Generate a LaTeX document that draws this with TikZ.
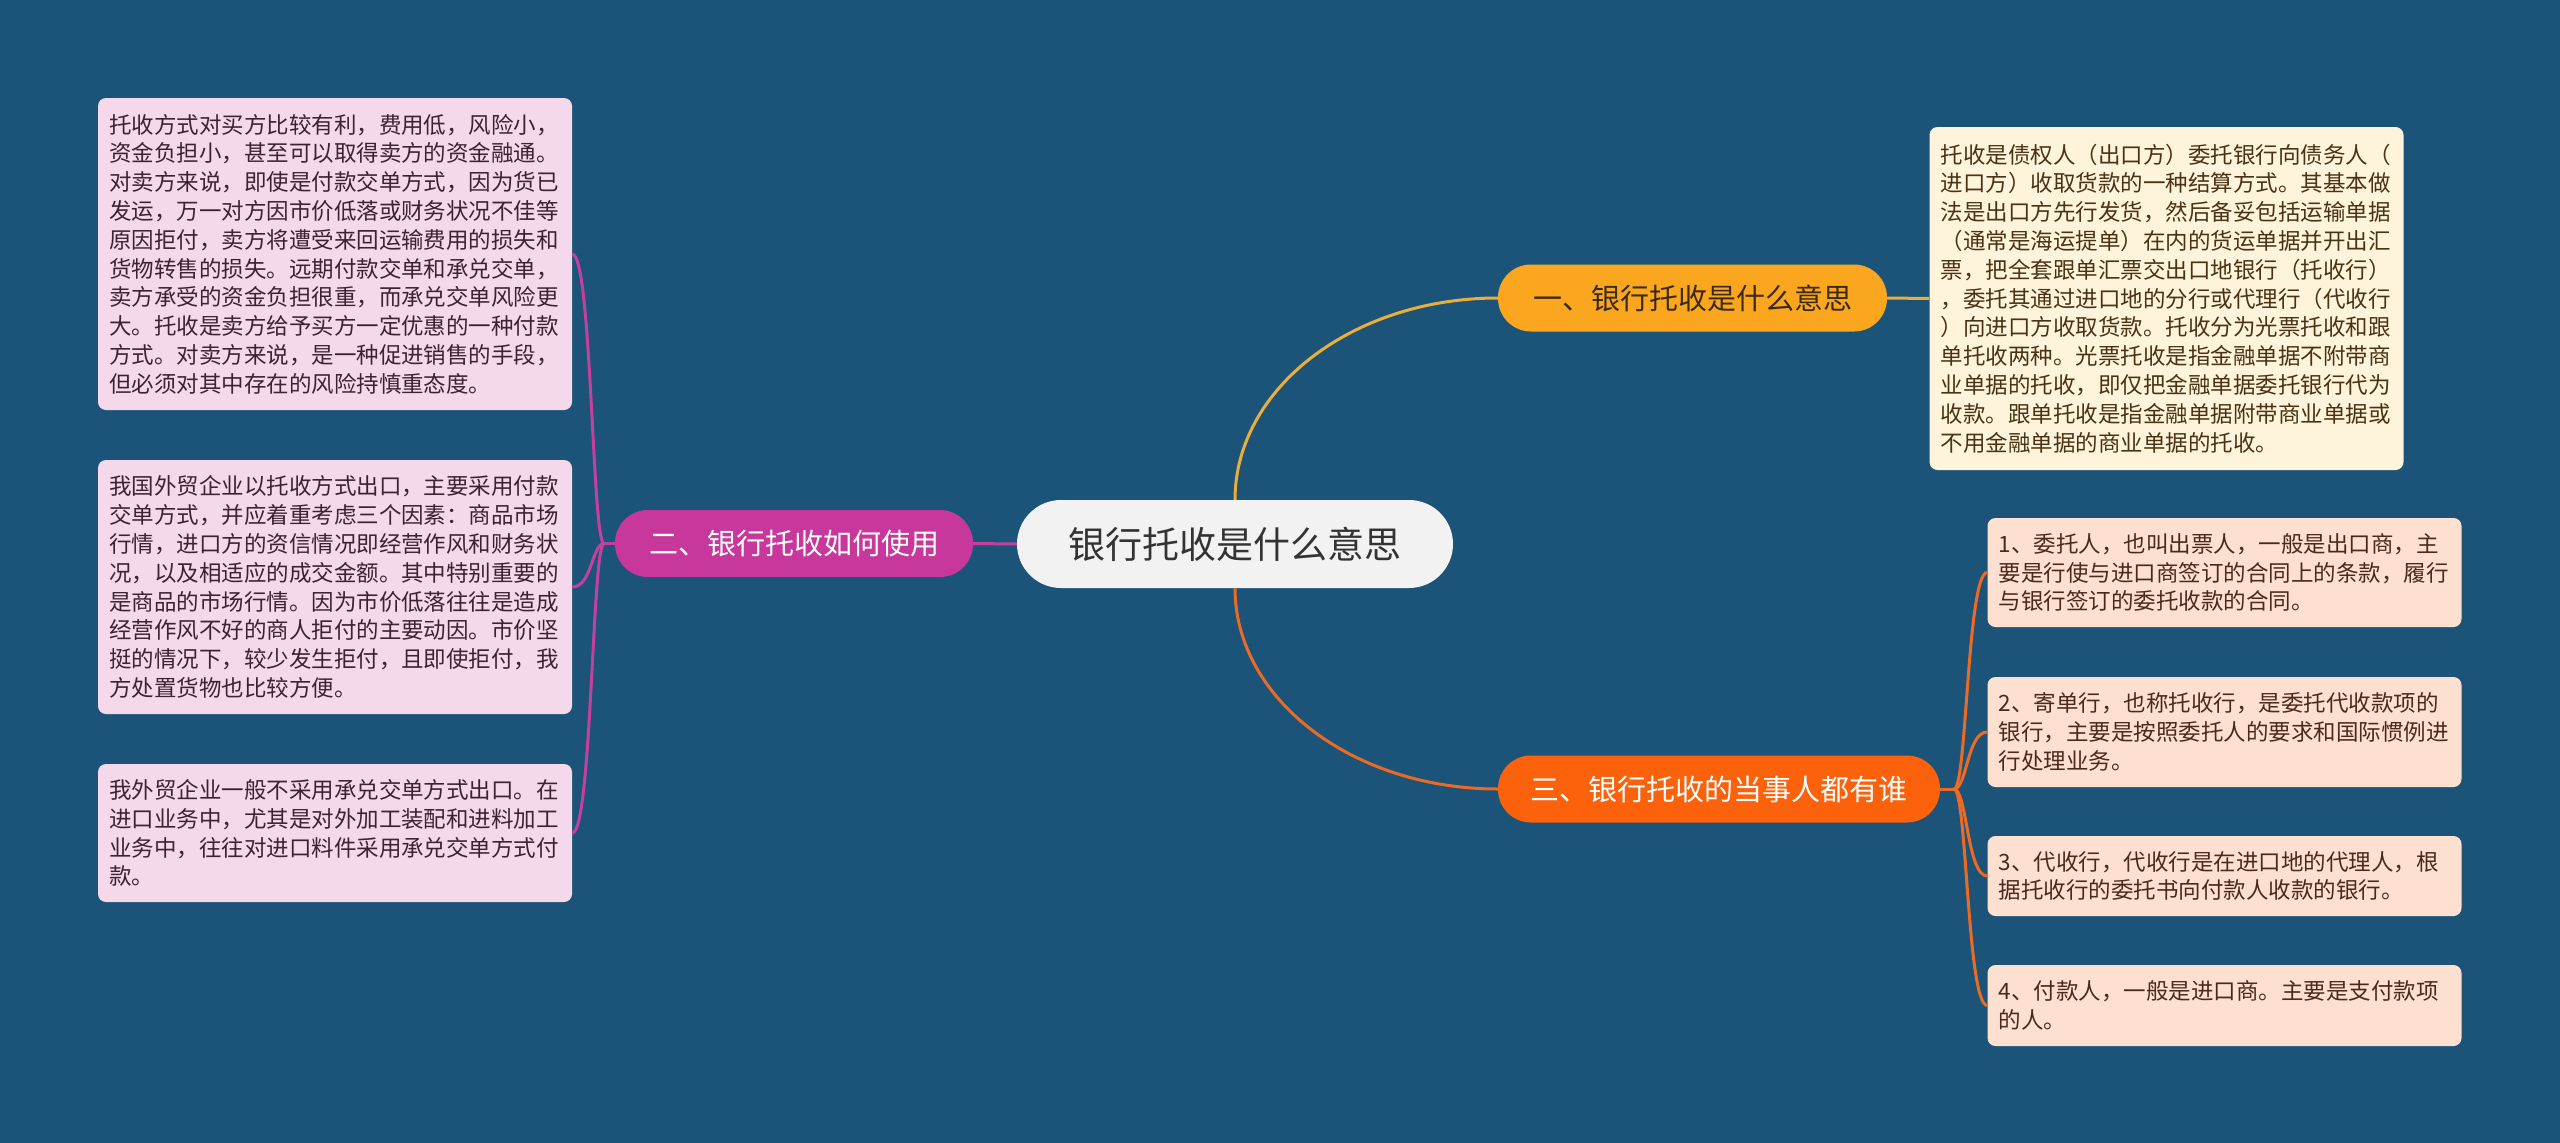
\documentclass[tikz,border=0pt]{standalone}
\usepackage{fontspec}
\setmainfont{Noto Sans CJK SC}
\usetikzlibrary{calc}
\definecolor{bg}{HTML}{1B5478}
\definecolor{rootfill}{HTML}{F2F2F2}
\definecolor{roottext}{HTML}{333333}
\definecolor{bAfill}{HTML}{FBA61F}
\definecolor{bAline}{HTML}{E9AE3C}
\definecolor{bAtext}{HTML}{3B2A12}
\definecolor{bBfill}{HTML}{C8379B}
\definecolor{bBline}{HTML}{C4409E}
\definecolor{bCfill}{HTML}{FC620B}
\definecolor{bCline}{HTML}{EC6A24}
\definecolor{leafAfill}{HTML}{FEF3DB}
\definecolor{leafAtext}{HTML}{4A3315}
\definecolor{leafBfill}{HTML}{F6D8EB}
\definecolor{leafBtext}{HTML}{3E2134}
\definecolor{leafCfill}{HTML}{FDE0D0}
\definecolor{leafCtext}{HTML}{4A2A1C}
\begin{document}
\begin{tikzpicture}[x=1pt,y=-1pt,
  leafbox/.style={rounded corners=8pt, text width=452pt, inner xsep=11pt, inner ysep=0pt,
    align=left, font=\fontsize{22.5}{28.8}\selectfont, anchor=center},
  branchbox/.style={rounded corners=33pt, minimum height=67pt, inner xsep=0pt, inner ysep=0pt,
    font=\fontsize{29}{34}\selectfont, anchor=center},
  rootbox/.style={rounded corners=44pt, minimum height=88pt, minimum width=436pt,
    fill=rootfill, text=roottext, font=\fontsize{37}{44}\selectfont, anchor=center},
  conn/.style={line width=3pt}
]
\fill[bg] (0,0) rectangle (2560,1143);
\useasboundingbox (0,0) rectangle (2560,1143);

% root and branches
\node[rootbox] (root) at (1235,544) {银行托收是什么意思};
\node[branchbox, fill=bAfill, text=bAtext, minimum width=389pt] (b1) at (1692.5,298) {一、银行托收是什么意思};
\node[branchbox, fill=bBfill, text=white, minimum width=358pt] (b2) at (794,543.5) {二、银行托收如何使用};
\node[branchbox, fill=bCfill, text=white, minimum width=442pt] (b3) at (1719,789) {三、银行托收的当事人都有谁};

% right top leaf
\node[leafbox, fill=leafAfill, text=leafAtext, minimum height=343pt] (r0) at (2166.5,298.5) {托收是债权人（出口方）委托银行向债务人（\\
进口方）收取货款的一种结算方式。其基本做\\
法是出口方先行发货，然后备妥包括运输单据\\
（通常是海运提单）在内的货运单据并开出汇\\
票，把全套跟单汇票交出口地银行（托收行）\\
，委托其通过进口地的分行或代理行（代收行\\
）向进口方收取货款。托收分为光票托收和跟\\
单托收两种。光票托收是指金融单据不附带商\\
业单据的托收，即仅把金融单据委托银行代为\\
收款。跟单托收是指金融单据附带商业单据或\\
不用金融单据的商业单据的托收。};

% right lower leaves
\node[leafbox, fill=leafCfill, text=leafCtext, minimum height=109pt] (r1) at (2224.5,572.5) {1、委托人，也叫出票人，一般是出口商，主\\
要是行使与进口商签订的合同上的条款，履行\\
与银行签订的委托收款的合同。};
\node[leafbox, fill=leafCfill, text=leafCtext, minimum height=110pt] (r2) at (2224.5,732) {2、寄单行，也称托收行，是委托代收款项的\\
银行，主要是按照委托人的要求和国际惯例进\\
行处理业务。};
\node[leafbox, fill=leafCfill, text=leafCtext, minimum height=80pt] (r3) at (2224.5,876) {3、代收行，代收行是在进口地的代理人，根\\
据托收行的委托书向付款人收款的银行。};
\node[leafbox, fill=leafCfill, text=leafCtext, minimum height=81pt] (r4) at (2224.5,1005.5) {4、付款人，一般是进口商。主要是支付款项\\
的人。};

% left leaves
\node[leafbox, fill=leafBfill, text=leafBtext, minimum height=312pt] (l1) at (335,254) {托收方式对买方比较有利，费用低，风险小，\\
资金负担小，甚至可以取得卖方的资金融通。\\
对卖方来说，即使是付款交单方式，因为货已\\
发运，万一对方因市价低落或财务状况不佳等\\
原因拒付，卖方将遭受来回运输费用的损失和\\
货物转售的损失。远期付款交单和承兑交单，\\
卖方承受的资金负担很重，而承兑交单风险更\\
大。托收是卖方给予买方一定优惠的一种付款\\
方式。对卖方来说，是一种促进销售的手段，\\
但必须对其中存在的风险持慎重态度。};
\node[leafbox, fill=leafBfill, text=leafBtext, minimum height=254pt] (l2) at (335,587) {我国外贸企业以托收方式出口，主要采用付款\\
交单方式，并应着重考虑三个因素：商品市场\\
行情，进口方的资信情况即经营作风和财务状\\
况，以及相适应的成交金额。其中特别重要的\\
是商品的市场行情。因为市价低落往往是造成\\
经营作风不好的商人拒付的主要动因。市价坚\\
挺的情况下，较少发生拒付，且即使拒付，我\\
方处置货物也比较方便。};
\node[leafbox, fill=leafBfill, text=leafBtext, minimum height=138pt] (l3) at (335,833) {我外贸企业一般不采用承兑交单方式出口。在\\
进口业务中，尤其是对外加工装配和进料加工\\
业务中，往往对进口料件采用承兑交单方式付\\
款。};

% connectors root -> branches
\coordinate (k1) at (root.north |- b1.west);
\coordinate (k3) at (root.south |- b3.west);
\draw[conn, bAline] (root.north) .. controls ($(root.north)!0.552!(k1)$) and ($(b1.west)!0.552!(k1)$) .. (b1.west);
\draw[conn, bCline] (root.south) .. controls ($(root.south)!0.552!(k3)$) and ($(b3.west)!0.552!(k3)$) .. (b3.west);
\draw[conn, bBline] (root.west) -- (b2.east);

% branch 1 -> leaf
\draw[conn, bAline] (b1.east) -- (r0.west);

% branch 3 -> leaves
\coordinate (j3) at (1954,789);
\draw[conn, bCline] (b3.east) -- (j3);
\foreach \n in {r1,r2,r3,r4}{
  \draw[conn, bCline] (j3) .. controls (1967,789) and (1967,0 |- \n.west) .. (\n.west);
}

% branch 2 -> leaves
\coordinate (j2) at (604,543.5);
\draw[conn, bBline] (b2.west) -- (j2);
\foreach \n in {l1,l2,l3}{
  \draw[conn, bBline] (j2) .. controls (592,543.5) and (592,0 |- \n.east) .. (\n.east);
}
\end{tikzpicture}
\end{document}
